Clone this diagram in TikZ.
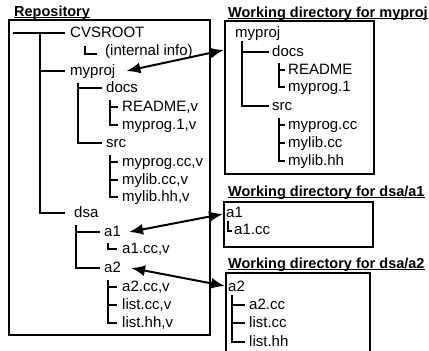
\documentclass[tikz,border=0pt]{standalone}
\usepackage{fontspec}
\setmainfont{Liberation Sans}
\usetikzlibrary{arrows.meta}
\begin{document}
\begin{tikzpicture}[x=1pt,y=-1pt,
  txt/.style={anchor=west,inner sep=0pt,text height=12pt,text depth=3pt,font=\fontsize{15}{17}\selectfont},
  hdr/.style={anchor=base west,inner sep=0pt,font=\fontsize{14.5}{16}\selectfont\bfseries},
  uline/.style={line width=1.2pt},
  tree/.style={line width=1.8pt},
  frame/.style={draw,line width=1.7pt,inner sep=0pt,anchor=north west},
  link/.style={line width=2pt,{Latex[length=14pt,width=11pt]}-{Latex[length=14pt,width=11pt]}}]
\useasboundingbox (0,0) rectangle (429,351);
% headers
\node[hdr] (hrepo) at (14,16) {Repository};
\node[hdr] (hw1) at (228,17) {Working directory for myproj};
\node[hdr] (hw2) at (228,196) {Working directory for dsa/a1};
\node[hdr] (hw3) at (228,268) {Working directory for dsa/a2};
\foreach \h in {hrepo,hw1,hw2,hw3}
  \draw[uline] ([yshift=-1.6pt]\h.base west) -- ([yshift=-1.6pt]\h.base east);
% frames
\node[frame,minimum width=201pt,minimum height=315pt] (repo) at (8,19) {};
\node[frame,minimum width=149pt,minimum height=153pt] (box1) at (224,20) {};
\node[frame,minimum width=149pt,minimum height=45pt] (box2) at (223,201) {};
\begin{scope}
\clip (0,0) rectangle (429,351);
\node[frame,minimum width=144pt,minimum height=100pt] (box3) at (225,272) {};
\end{scope}
% repository tree
\node[txt] (rcvs) at (70,33) {CVSROOT};
\node[txt] (rinfo) at (105,51) {(internal info)};
\node[txt] (rmyproj) at (70,71) {myproj};
\node[txt] (rdocs) at (106,88) {docs};
\node[txt] (rreadme) at (122,107) {README,v};
\node[txt] (rmyprog1) at (122,125) {myprog.1,v};
\node[txt] (rsrc) at (106,143) {src};
\node[txt] (rmyprogcc) at (122,162) {myprog.cc,v};
\node[txt] (rmylibcc) at (122,180) {mylib.cc,v};
\node[txt] (rmylibhh) at (122,197) {mylib.hh,v};
\node[txt] (rdsa) at (74,213) {dsa};
\node[txt] (ra1) at (104,232) {a1};
\node[txt] (ra1cc) at (122,249) {a1.cc,v};
\node[txt] (ra2) at (104,268) {a2};
\node[txt] (ra2cc) at (122,287) {a2.cc,v};
\node[txt] (rlistcc) at (122,305) {list.cc,v};
\node[txt] (rlisthh) at (122,323) {list.hh,v};
\draw[tree] (13,33) -- ([xshift=-5pt]rcvs.west);
\draw[tree] (40,33) |- ([xshift=-9pt]rdsa.west);
\draw[tree] (40,71) -- ([xshift=-5pt]rmyproj.west);
\draw[tree] (85,46) |- ([xshift=-8pt,yshift=-3pt]rinfo.west);
\draw[tree] (78,83) |- ([xshift=-4pt]rsrc.west);
\draw[tree] (78,88) -- ([xshift=-4pt]rdocs.west);
\draw[tree] (110,100) |- ([xshift=-4pt]rmyprog1.west);
\draw[tree] (110,107) -- ([xshift=-4pt]rreadme.west);
\draw[tree] (110,155) |- ([xshift=-4pt]rmylibhh.west);
\draw[tree] (110,162) -- ([xshift=-4pt]rmyprogcc.west);
\draw[tree] (110,180) -- ([xshift=-4pt]rmylibcc.west);
\draw[tree] (76,225) |- ([xshift=-4pt]ra2.west);
\draw[tree] (76,232) -- ([xshift=-4pt]ra1.west);
\draw[tree] (108,243) |- ([xshift=-5pt]ra1cc.west);
\draw[tree] (108,280) |- ([xshift=-5pt]rlisthh.west);
\draw[tree] (108,287) -- ([xshift=-5pt]ra2cc.west);
\draw[tree] (108,305) -- ([xshift=-5pt]rlistcc.west);
% working directory for myproj
\node[txt] (wmyproj) at (235,33) {myproj};
\node[txt] (wdocs) at (272,52) {docs};
\node[txt] (wsrc) at (272,106) {src};
\node[txt] (wreadme) at (288,70) {README};
\node[txt] (wmyprog1) at (288,87) {myprog.1};
\node[txt] (wmyprogcc) at (288,125) {myprog.cc};
\node[txt] (wmylibcc) at (288,143) {mylib.cc};
\node[txt] (wmylibhh) at (288,161) {mylib.hh};
\draw[tree] (242,41) |- ([xshift=-3pt]wsrc.west);
\draw[tree] (242,52) -- ([xshift=-3pt]wdocs.west);
\draw[tree] (279,63) |- ([xshift=-3pt]wmyprog1.west);
\draw[tree] (279,70) -- ([xshift=-3pt]wreadme.west);
\draw[tree] (279,118) |- ([xshift=-3pt]wmylibhh.west);
\draw[tree] (279,125) -- ([xshift=-3pt]wmyprogcc.west);
\draw[tree] (279,143) -- ([xshift=-3pt]wmylibcc.west);
% working directory for dsa/a1
\node[txt] (wa1) at (226,213) {a1};
\node[txt] (wa1cc) at (234,230) {a1.cc};
\draw[tree] (228,221) |- ([xshift=-2pt,yshift=-1pt]wa1cc.west);
% working directory for dsa/a2
\node[txt] (wa2) at (228,287) {a2};
\node[txt] (wa2cc) at (249,305) {a2.cc};
\node[txt] (wlistcc) at (249,323) {list.cc};
\node[txt] (wlisthh) at (249,342) {list.hh};
\draw[tree] (232,295) |- ([xshift=-4pt]wlisthh.west);
\draw[tree] (232,305) -- ([xshift=-4pt]wa2cc.west);
\draw[tree] (232,323) -- ([xshift=-4pt]wlistcc.west);
% links
\draw[link] ([xshift=11pt]rmyproj.east) -- ([yshift=-30pt]box1.north west);
\draw[link] ([xshift=8pt]ra1.east) -- ([yshift=-13pt]box2.north west);
\draw[link] ([xshift=10pt]ra2.east) -- ([yshift=-14pt]box3.north west);
\end{tikzpicture}
\end{document}
